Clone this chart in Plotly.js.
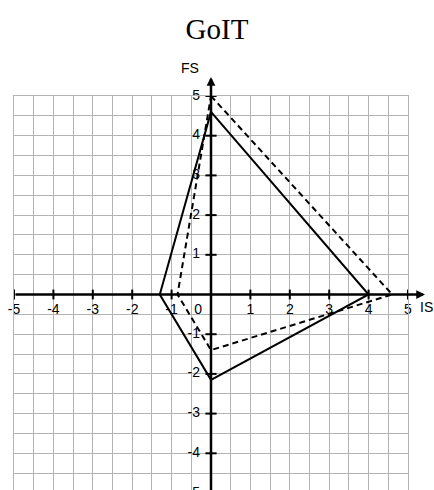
<!DOCTYPE html>
<html>
<head>
<meta charset="utf-8">
<script src="https://cdn.plot.ly/plotly-3.0.1.min.js"></script>
<style>
  html, body { margin: 0; padding: 0; overflow: hidden; background: #fff; }
</style>
</head>
<body>
<div id="chart"></div>
<script>
// Two quadrilaterals on the IS / FS plane
const solidIS = [0, 4, 0, -1.3, 0];
const solidFS = [4.6, 0, -2.15, 0, 4.6];
const dashedIS = [0, 4.6, 0, -0.85, 0];
const dashedFS = [5, 0, -1.4, 0, 5];

// Axis ticks and their labels (both axes cross at the origin)
const xTickVals = [-5, -4, -3, -2, -1, 1, 2, 3, 4, 5];
const yTickVals = [-5, -4, -3, -2, -1, 1, 2, 3, 4, 5];
const xLabelVals = [-5, -4, -3, -2, -1, 0, 1, 2, 3, 4, 5];
const xLabels = ['-5', '-4', '-3', '-2', '-1', '0', '1', '2', '3', '4', '5'];
const yLabelVals = [-5, -4, -3, -2, -1, 1, 2, 3, 4, 5];
const yLabels = ['-5', '-4', '-3', '-2', '-1', '1', '2', '3', '4', '5'];

const INK = '#000';
const GRID = '#b3b3b3';
const SANS = '"Liberation Sans", Arial, sans-serif';
const SERIF = '"Liberation Serif", "Times New Roman", serif';

const W = 434, H = 493;
const M = { l: 14, r: 26, t: 96, b: 0 };
const plotW = W - M.l - M.r, plotH = H - M.t - M.b;

const traces = [
  {
    x: dashedIS, y: dashedFS, mode: 'lines', hoverinfo: 'skip',
    line: { color: INK, width: 2, dash: '6px,4px' }
  },
  {
    x: solidIS, y: solidFS, mode: 'lines', hoverinfo: 'skip',
    line: { color: INK, width: 2 }
  },
  {
    // tick marks across the horizontal axis
    x: xTickVals, y: xTickVals.map(() => 0), mode: 'markers', hoverinfo: 'skip',
    cliponaxis: false,
    marker: { symbol: 'line-ns-open', size: 7, color: INK, line: { color: INK, width: 2 } }
  },
  {
    // tick marks across the vertical axis
    x: yTickVals.map(() => 0), y: yTickVals, mode: 'markers', hoverinfo: 'skip',
    cliponaxis: false,
    marker: { symbol: 'line-ew-open', size: 8, color: INK, line: { color: INK, width: 2 } }
  },
  {
    x: xLabelVals, y: xLabelVals.map(() => 0), mode: 'markers+text', hoverinfo: 'skip',
    cliponaxis: false,
    text: xLabels,
    textposition: xLabels.map(t => t === '0' ? 'bottom left' : 'bottom center'),
    textfont: { family: SANS, size: 14, color: INK },
    marker: { size: 12.6, color: 'rgba(0,0,0,0)' }
  },
  {
    x: yLabelVals.map(() => 0), y: yLabelVals, mode: 'markers+text', hoverinfo: 'skip',
    cliponaxis: false,
    text: yLabels,
    textposition: 'middle left',
    textfont: { family: SANS, size: 14, color: INK },
    marker: { size: 16, color: 'rgba(0,0,0,0)' }
  }
];

// pixel helpers for the arrowed axes that run past the grid
const px2paperX = p => (p - M.l) / plotW;
const px2paperY = p => (H - M.b - p) / plotH;

const axisArrow = {
  text: '', showarrow: true, arrowhead: 2, arrowsize: 0.7,
  arrowwidth: 2.5, arrowcolor: INK, standoff: 0, startstandoff: 0
};

const annotations = [
  Object.assign({}, axisArrow, {
    xref: 'x', x: 0, yref: 'paper', y: px2paperY(77),
    axref: 'pixel', ayref: 'pixel', ax: 0, ay: H - 77
  }),
  Object.assign({}, axisArrow, {
    yref: 'y', y: 0, xref: 'paper', x: px2paperX(425),
    axref: 'pixel', ayref: 'pixel', ax: -(425 - M.l), ay: 0
  }),
  {
    text: 'FS', showarrow: false, xref: 'paper', yref: 'paper',
    x: px2paperX(190), y: px2paperY(68), xanchor: 'center', yanchor: 'middle',
    font: { family: SANS, size: 14, color: INK }
  },
  {
    text: 'IS', showarrow: false, xref: 'paper', yref: 'paper',
    x: px2paperX(418), y: px2paperY(307), xanchor: 'left', yanchor: 'middle',
    font: { family: SANS, size: 14, color: INK }
  }
];

const gridAxis = {
  range: [-5, 5], tick0: 0, dtick: 0.5,
  showticklabels: false, ticks: '',
  showgrid: true, gridcolor: GRID, gridwidth: 1,
  zeroline: false,
  showline: true, mirror: true, linecolor: GRID, linewidth: 1,
  fixedrange: true
};

const layout = {
  width: W, height: H,
  margin: { l: M.l, r: M.r, t: M.t, b: M.b, pad: 0 },
  paper_bgcolor: '#fff', plot_bgcolor: '#fff',
  showlegend: false,
  title: {
    text: 'GoIT',
    font: { family: SERIF, size: 29, color: INK },
    xref: 'container', x: 0.5, xanchor: 'center',
    yref: 'container', y: 1 - 29 / H, yanchor: 'middle'
  },
  xaxis: Object.assign({}, gridAxis),
  yaxis: Object.assign({}, gridAxis),
  annotations: annotations
};

Plotly.newPlot('chart', traces, layout, { displayModeBar: false, staticPlot: true });
</script>
</body>
</html>
